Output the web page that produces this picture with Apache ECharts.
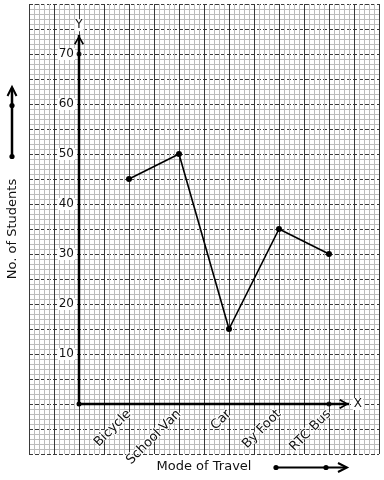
<!DOCTYPE html>
<html><head><meta charset="utf-8">
<script src="https://cdn.jsdelivr.net/npm/echarts@6/dist/echarts.min.js"></script>
<style>html,body{margin:0;padding:0;background:#fff}#c{width:384px;height:480px}</style>
</head><body><div id="c"></div>
<script>
// ---- data ----
const categories = ['Bicycle', 'School Van', 'Car', 'By Foot', 'RTC Bus'];
const students = [45, 50, 15, 35, 30];
const yTickLabels = [10, 20, 30, 40, 50, 60, 70];
const xRange = [-1, 6];        // category slots: 1..5, origin at 0
const yRange = [-10, 80];
const yAxisTop = 73.8;
const xAxisEnd = 5.4;
const xAxisTitle = 'Mode of Travel';
const yAxisTitle = 'No. of Students';

const FONT = 'DejaVu Sans';
const MAJOR = '#3a3a3a';
const MINOR = '#bcbcbc';
const upArrow = 'path://M0,8.6 L5,0 L10,8.6 L8.6,9.6 L5,3 L1.4,9.6 Z';
const rightArrow = 'path://M1.4,0 L10,5 L1.4,10 L0.4,8.6 L7,5 L0.4,1.4 Z';

const GRID = {left: 29, top: 4, width: 350, height: 450};
const chart = echarts.init(document.getElementById('c'), null, {renderer: 'canvas'});
// shift the labelled axes onto the origin (value 0 of the other axis)
const xOff = -(GRID.height * (0 - yRange[0]) / (yRange[1] - yRange[0]));
const yOff = -(GRID.width * (0 - xRange[0]) / (xRange[1] - xRange[0]));
const option = {
  backgroundColor: '#fff',
  animation: false,
  grid: Object.assign({outerBoundsMode: 'none', containLabel: false}, GRID),
  xAxis: {
    type: 'value', min: xRange[0], max: xRange[1], interval: 0.5, position: 'bottom', offset: xOff,
    axisLine: {show: false, onZero: false},
    axisTick: {show: false},
    minorTick: {show: false, splitNumber: 5},
    splitLine: {show: true, lineStyle: {color: MAJOR, width: 1, type: 'solid'}},
    minorSplitLine: {show: true, lineStyle: {color: MINOR, width: 1}},
    axisLabel: {
      show: true, rotate: 45, margin: 8, interval: 0,
      fontFamily: FONT, fontSize: 13, color: '#111',
      textBorderColor: '#fff', textBorderWidth: 2,
      showMinLabel: false, showMaxLabel: false,
      formatter: v => (Number.isInteger(v) && v >= 1 && v <= categories.length) ? categories[v - 1] : ''
    },
    name: xAxisTitle, nameLocation: 'middle', nameGap: 56, nameMoveOverlap: false,
    nameTextStyle: {fontFamily: FONT, fontSize: 13, color: '#111'}
  },
  yAxis: {
    type: 'value', min: yRange[0], max: yRange[1], interval: 5, position: 'left', offset: yOff,
    axisLine: {show: false, onZero: false},
    axisTick: {show: false},
    minorTick: {show: false, splitNumber: 5},
    splitLine: {show: true, lineStyle: {color: MAJOR, width: 1, type: [4, 2]}},
    minorSplitLine: {show: true, lineStyle: {color: MINOR, width: 1}},
    axisLabel: {
      show: true, margin: 4, fontFamily: FONT, fontSize: 12, color: '#111',
      backgroundColor: '#fff', padding: [0, 1, 0, 1],
      showMinLabel: false, showMaxLabel: false,
      formatter: v => yTickLabels.indexOf(v) >= 0 ? String(v) : ''
    },
    name: yAxisTitle, nameLocation: 'middle', nameRotate: 90, nameGap: 60, nameMoveOverlap: false,
    nameTextStyle: {fontFamily: FONT, fontSize: 13, color: '#111'}
  },
  graphic: [
    // decorative direction arrows next to the axis titles
    {type: 'polyline', z: 10, shape: {points: [[12, 157], [12, 88]]}, style: {stroke: '#000', lineWidth: 2.5, fill: null}},
    {type: 'polyline', z: 10, shape: {points: [[7.5, 96], [12, 87], [16.5, 96]]}, style: {stroke: '#000', lineWidth: 2, fill: null}},
    {type: 'circle', z: 10, shape: {cx: 12, cy: 105.5, r: 2.6}, style: {fill: '#000'}},
    {type: 'circle', z: 10, shape: {cx: 12, cy: 156.5, r: 2.6}, style: {fill: '#000'}},
    {type: 'polyline', z: 10, shape: {points: [[276, 467.5], [346, 467.5]]}, style: {stroke: '#000', lineWidth: 2, fill: null}},
    {type: 'polyline', z: 10, shape: {points: [[338, 463], [347, 467.5], [338, 472]]}, style: {stroke: '#000', lineWidth: 2, fill: null}},
    {type: 'circle', z: 10, shape: {cx: 276, cy: 467.5, r: 2.6}, style: {fill: '#000'}},
    {type: 'circle', z: 10, shape: {cx: 326, cy: 467.5, r: 2.6}, style: {fill: '#000'}}
  ],
  series: [
    {
      name: 'yAxisLine', type: 'line', z: 3, silent: true,
      lineStyle: {color: '#000', width: 2.5}, itemStyle: {color: '#000'},
      data: [
        {value: [0, 0], symbol: 'circle', symbolSize: 5},
        {value: [0, yAxisTop], symbol: upArrow, symbolSize: [10, 10], symbolKeepAspect: true, symbolOffset: [0, 5],
         label: {show: true, position: 'top', distance: 4, formatter: 'Y', fontFamily: FONT, fontSize: 12, color: '#111',
                 backgroundColor: '#fff', padding: [0, 1, 0, 1]}}
      ]
    },
    {
      name: 'xAxisLine', type: 'line', z: 3, silent: true,
      lineStyle: {color: '#000', width: 2.5}, itemStyle: {color: '#000'},
      data: [
        {value: [0, 0], symbol: 'none'},
        {value: [xAxisEnd, 0], symbol: rightArrow, symbolSize: [10, 10], symbolKeepAspect: true, symbolOffset: [-5, 0],
         label: {show: true, position: 'right', distance: 4, formatter: 'X', fontFamily: FONT, fontSize: 12, color: '#111',
                 backgroundColor: '#fff', padding: [0, 1, 0, 1]}}
      ]
    },
    {
      name: 'axisDots', type: 'scatter', z: 4, symbol: 'circle', symbolSize: 5,
      itemStyle: {color: '#000'},
      data: [[0, yTickLabels[yTickLabels.length - 1]], [categories.length, 0]]
    },
    {
      name: 'Students', type: 'line', z: 5,
      symbol: 'circle', symbolSize: 6, showAllSymbol: true,
      lineStyle: {color: '#000', width: 1.6}, itemStyle: {color: '#000'},
      data: categories.map((c, i) => [i + 1, students[i]])
    }
  ]
};
chart.setOption(option);
</script>
</body></html>
